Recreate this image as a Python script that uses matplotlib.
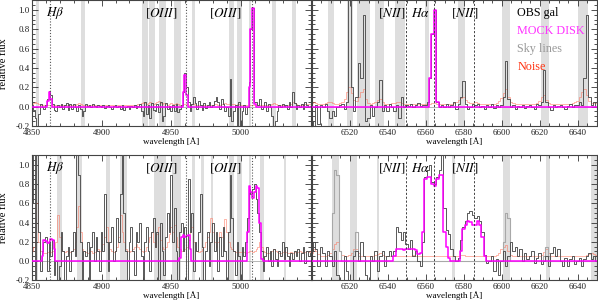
import numpy as np
import matplotlib
matplotlib.use("Agg")
import matplotlib.pyplot as plt
from matplotlib.ticker import MultipleLocator

plt.rcParams['font.family'] = ['Liberation Serif', 'DejaVu Serif']
plt.rcParams['mathtext.fontset'] = 'stix'

# ---------------- data ----------------
blue_start, red_start, step = 4850.0, 6500.0, 1.25
n_blue, n_red = 161, 121

# top-left (blue) panel
tl_obs = [
    0.02, -0.03, -0.12, -0.2, -0.08, 0.03, 0.0, -0.02,
    0.02, 0.08, 0.16, 0.12, 0.03, -0.03, -0.05, 0.02,
    0.0, 0.03, -0.02, 0.02, 0.04, -0.03, 0.03, -0.02,
    0.03, 0.0, -0.04, 0.02, -0.02, -0.1, -0.05, 0.03,
    0.01, 0.02, 0.0, 0.03, 0.01, 0.0, 0.02, 0.01,
    0.0, 0.02, -0.01, 0.01, 0.02, 0.0, -0.02, 0.01,
    0.02, 0.0, 0.01, -0.02, 0.02, -0.03, 0.0, 0.01,
    -0.02, 0.01, 0.0, 0.02, -0.01, 0.01, 0.03, -0.05,
    -0.1, 0.05, -0.08, 0.02, -0.12, 0.04, -0.03, -0.05,
    0.03, -0.06, 0.05, -0.15, -0.1, 0.04, -0.02, 0.01,
    -0.05, 0.02, -0.04, 0.03, -0.06, -0.02, 0.02, 0.15,
    0.35, 0.2, 0.05, -0.05, 0.03, 0.1, 0.04, -0.02,
    0.06, 0.02, -0.03, 0.04, -0.01, 0.02, 0.05, 0.0,
    0.02, 0.06, 0.1, 0.05, -0.02, 0.08, 0.03, -0.05,
    0.0, -0.1, 0.29, -0.15, -0.05, 0.02, -0.2, 0.05,
    -0.2, -0.05, 0.02, -0.08, 0.0, 0.25, 0.8, 1.02,
    0.05, 0.05, 0.02, 0.08, -0.02, 0.0, 0.05, -0.04,
    0.03, 0.0, -0.1, -0.2, -0.15, -0.05, 0.02, 0.0,
    0.03, 0.01, 0.02, -0.02, 0.05, 0.0, 0.15, 0.04,
    -0.02, 0.02, 0.0, 0.03, -0.02, 0.05, 0.02, 0.0,
    0.01]
tl_mock = [
    0, 0, 0, 0, 0, 0, 0, 0,
    0, 0.06, 0.15, 0.08, 0, 0, 0, 0,
    0, 0, 0, 0, 0, 0, 0, 0,
    0, 0, 0, 0, 0, 0, 0, 0,
    0, 0, 0, 0, 0, 0, 0, 0,
    0, 0, 0, 0, 0, 0, 0, 0,
    0, 0, 0, 0, 0, 0, 0, 0,
    0, 0, 0, 0, 0, 0, 0, 0,
    0, 0, 0, 0, 0, 0, 0, 0,
    0, 0, 0, 0, 0, 0, 0, 0,
    0, 0, 0, 0, 0, 0, 0, 0.15,
    0.33, 0.12, 0, 0, 0, 0, 0, 0,
    0, 0, 0, 0, 0, 0, 0, 0,
    0, 0, 0, 0, 0, 0, 0, 0,
    0, 0, 0, 0, 0, 0, 0, 0,
    0, 0, 0, 0, 0, 0.2, 0.8, 1.02,
    0.03, 0, 0, 0, 0, 0, 0, 0,
    0, 0, 0, 0, 0, 0, 0, 0,
    0, 0, 0, 0, 0, 0, 0, 0,
    0, 0, 0, 0, 0, 0, 0, 0,
    0]
tl_noise = [
    0.03, 0.04, 0.05, 0.04, 0.03, 0.02, 0.02, 0.02,
    0.02, 0.02, 0.02, 0.02, 0.02, 0.02, 0.02, 0.02,
    0.02, 0.02, 0.02, 0.02, 0.02, 0.02, 0.02, 0.02,
    0.02, 0.02, 0.03, 0.04, 0.03, 0.02, 0.02, 0.02,
    0.02, 0.02, 0.02, 0.02, 0.02, 0.02, 0.02, 0.02,
    0.02, 0.02, 0.02, 0.02, 0.02, 0.02, 0.02, 0.02,
    0.02, 0.02, 0.02, 0.02, 0.02, 0.02, 0.02, 0.02,
    0.02, 0.02, 0.02, 0.02, 0.02, 0.03, 0.03, 0.04,
    0.05, 0.04, 0.03, 0.04, 0.05, 0.04, 0.03, 0.04,
    0.05, 0.06, 0.04, 0.03, 0.04, 0.03, 0.02, 0.03,
    0.04, 0.03, 0.03, 0.04, 0.03, 0.02, 0.02, 0.03,
    0.03, 0.03, 0.02, 0.02, 0.03, 0.03, 0.02, 0.02,
    0.02, 0.02, 0.02, 0.02, 0.02, 0.02, 0.02, 0.02,
    0.02, 0.03, 0.03, 0.02, 0.02, 0.03, 0.03, 0.04,
    0.03, 0.03, 0.04, 0.03, 0.03, 0.02, 0.03, 0.03,
    0.02, 0.02, 0.02, 0.02, 0.02, 0.02, 0.02, 0.02,
    0.02, 0.02, 0.02, 0.02, 0.02, 0.02, 0.02, 0.02,
    0.02, 0.02, 0.03, 0.04, 0.03, 0.02, 0.02, 0.02,
    0.02, 0.02, 0.02, 0.02, 0.03, 0.03, 0.05, 0.04,
    0.03, 0.02, 0.02, 0.02, 0.02, 0.03, 0.03, 0.03,
    0.03]
tl_lines = [4862.68, 4960.30, 5008.24]
tl_sky = [(4852.9, 4854.8), (4885.0, 4887.9), (4928.8, 4933.0), (4934.3, 4938.6),
          (4941.4, 4946.2), (4951.7, 4956.9), (4964.8, 4967.1), (4991.4, 4995.0),
          (4997.0, 5000.5), (5005.7, 5007.4), (5022.4, 5025.5), (5036.7, 5039.5)]

# top-right (red) panel
tr_obs = [
    -0.15, -0.2, 0.02, -0.18, 0.02, 0.0, 0.03, -0.05,
    -0.12, -0.05, -0.1, 0.0, 0.02, 0.03, -0.02, 0.05,
    1.15, 0.2, -0.05, 0.1, 0.45, 0.3, 0.95, -0.15,
    -0.12, 0.02, -0.1, 0.0, 0.05, 0.28, -0.05, 0.02,
    -0.05, 0.03, 0.0, -0.05, 0.02, -0.12, 0.1, 0.0,
    0.02, 0.01, 0.03, 0.0, 0.02, 0.04, 0.01, 0.02,
    0.02, 0.05, 0.3, 0.75, 1.0, 0.05, 0.0, 0.02,
    0.0, 0.03, 0.0, 0.02, 0.05, -0.02, 0.03, 0.1,
    0.27, 0.03, -0.02, 0.0, 0.03, 0.02, 0.03, 0.0,
    0.01, -0.02, 0.02, 0.0, 0.03, -0.01, 0.02, 0.0,
    0.02, 0.1, 0.47, 0.08, 0.0, 0.02, -0.02, 0.01,
    0.0, 0.02, -0.01, 0.01, 0.02, 0.0, -0.02, 0.03,
    0.02, 0.05, 0.38, 0.05, 0.0, -0.03, 0.02, 0.0,
    0.01, 0.02, 0.0, -0.02, 0.01, 0.03, 0.0, 0.02,
    0.02, 0.05, 0.02, 0.3, 0.95, 0.1, 0.02, 0.05,
    0.0]
tr_mock = [
    0, 0, 0, 0, 0, 0, 0, 0,
    0, 0, 0, 0, 0, 0, 0, 0,
    0, 0, 0, 0, 0, 0, 0, 0,
    0, 0, 0, 0, 0, 0, 0, 0,
    0, 0, 0, 0, 0, 0, 0, 0,
    0, 0, 0, 0, 0, 0, 0, 0,
    0, 0, 0.3, 0.75, 1.0, 0.05, 0, 0,
    0, 0, 0, 0, 0, 0, 0, 0,
    0, 0, 0, 0, 0, 0, 0, 0,
    0, 0, 0, 0, 0, 0, 0, 0,
    0, 0, 0, 0, 0, 0, 0, 0,
    0, 0, 0, 0, 0, 0, 0, 0,
    0, 0, 0, 0, 0, 0, 0, 0,
    0, 0, 0, 0, 0, 0, 0, 0,
    0, 0, 0, 0, 0, 0, 0, 0,
    0]
tr_noise = [
    0.04, 0.05, 0.04, 0.03, 0.03, 0.03, 0.04, 0.05,
    0.05, 0.04, 0.03, 0.03, 0.04, 0.05, 0.08, 0.15,
    0.2, 0.14, 0.07, 0.06, 0.1, 0.15, 0.18, 0.08,
    0.04, 0.03, 0.04, 0.05, 0.07, 0.08, 0.05, 0.03,
    0.03, 0.03, 0.04, 0.04, 0.05, 0.05, 0.04, 0.03,
    0.03, 0.03, 0.03, 0.03, 0.03, 0.03, 0.03, 0.03,
    0.03, 0.03, 0.03, 0.04, 0.04, 0.03, 0.03, 0.03,
    0.03, 0.03, 0.03, 0.03, 0.04, 0.05, 0.07, 0.09,
    0.1, 0.07, 0.05, 0.04, 0.04, 0.05, 0.04, 0.03,
    0.03, 0.03, 0.03, 0.03, 0.03, 0.03, 0.04, 0.06,
    0.09, 0.14, 0.18, 0.1, 0.05, 0.04, 0.03, 0.03,
    0.03, 0.03, 0.03, 0.03, 0.03, 0.03, 0.03, 0.04,
    0.06, 0.1, 0.12, 0.07, 0.04, 0.03, 0.03, 0.03,
    0.03, 0.03, 0.03, 0.03, 0.03, 0.03, 0.04, 0.05,
    0.06, 0.1, 0.15, 0.18, 0.12, 0.06, 0.04, 0.04,
    0.04]
tr_lines = [6549.86, 6564.61, 6585.27]
tr_sky = [(6508.6, 6511.8), (6518.9, 6521.9), (6524.2, 6530.8), (6533.5, 6537.9),
          (6544.2, 6549.1), (6559.8, 6561.6), (6577.0, 6580.6), (6600.3, 6604.6),
          (6620.6, 6625.0), (6640.5, 6645.5)]

# bottom-left (blue) panel
bl_obs = [
    0.6, 1.1, -0.2, 1.1, 0.3, -0.1, 0.1, 0.2,
    0.25, -0.1, 0.2, 0.05, 0.22, -0.15, 0.0, -0.2,
    -0.05, 0.3, 0.1, -0.2, 0.05, 0.15, -0.1, 0.1,
    0.3, 0.05, 1.1, 0.9, 0.2, -0.2, 0.1, 0.05,
    0.2, -0.2, 0.15, 0.3, 0.0, 0.25, 0.1, -0.1,
    0.3, 0.1, 0.7, 0.2, -0.1, 0.2, 0.35, 0.0,
    0.1, 0.45, 0.2, 0.7, 1.1, 0.5, 0.1, -0.2,
    0.2, 0.35, 0.1, -0.15, 0.3, 0.2, 0.4, 0.05,
    -0.2, 0.2, 0.35, 0.1, -0.1, 0.3, 0.45, 0.15,
    0.3, -0.2, 0.4, 0.1, -0.15, 0.25, 0.5, 0.3,
    0.9, 0.2, 0.55, 0.1, -0.2, 0.3, 0.4, 0.1,
    0.35, -0.2, 0.85, 0.3, 0.5, -0.1, 0.2, 0.1,
    0.3, 0.7, 0.15, -0.2, 0.1, 0.3, -0.05, 0.2,
    0.4, 0.1, 0.3, -0.1, 0.25, 0.05, 0.35, 0.1,
    -0.2, 0.3, 0.9, 0.45, 0.1, -0.15, 0.2, 0.05,
    -0.2, 0.15, 0.05, 0.2, 0.45, 0.75, 0.7, 0.75,
    0.8, 0.65, 0.5, 0.3, 0.1, -0.1, 0.05, 0.15,
    0.0, 0.1, -0.05, 0.12, 0.02, -0.05, 0.1, 0.05,
    0.2, 0.02, 0.15, 0.05, -0.05, 0.08, 0.02, 0.1,
    0.05, 0.12, 0.0, 0.08, 0.15, -0.02, 0.1, 0.05,
    0.08]
bl_mock = [
    0, 0, 0, 0, 0, 0, 0.05, 0.22,
    0.21, 0.19, 0.2, 0.23, 0.22, 0.12, 0, 0,
    0, 0, 0, 0, 0, 0, 0, 0,
    0, 0, 0, 0, 0, 0, 0, 0,
    0, 0, 0, 0, 0, 0, 0, 0,
    0, 0, 0, 0, 0, 0, 0, 0,
    0, 0, 0, 0, 0, 0, 0, 0,
    0, 0, 0, 0, 0, 0, 0, 0,
    0, 0, 0, 0, 0, 0, 0, 0,
    0, 0, 0, 0, 0, 0, 0, 0,
    0, 0, 0, 0, 0, 0.03, 0.25, 0.27,
    0.25, 0.26, 0.27, 0.12, 0, 0, 0, 0,
    0, 0, 0, 0, 0, 0, 0, 0,
    0, 0, 0, 0, 0, 0, 0, 0,
    0, 0, 0, 0, 0, 0, 0, 0,
    0, 0, 0, 0, 0.3, 0.78, 0.72, 0.66,
    0.72, 0.78, 0.76, 0.4, 0.02, 0, 0, 0,
    0, 0, 0, 0, 0, 0, 0, 0,
    0, 0, 0, 0, 0, 0, 0, 0,
    0, 0, 0, 0, 0, 0, 0, 0,
    0]
bl_noise = [
    0.1, 0.15, 0.3, 0.6, 0.2, 0.1, 0.09, 0.08,
    0.08, 0.09, 0.1, 0.09, 0.1, 0.12, 0.2, 0.48,
    0.25, 0.12, 0.1, 0.09, 0.1, 0.08, 0.09, 0.1,
    0.12, 0.2, 0.35, 0.57, 0.3, 0.12, 0.1, 0.09,
    0.08, 0.09, 0.1, 0.08, 0.09, 0.1, 0.12, 0.1,
    0.12, 0.18, 0.25, 0.35, 0.2, 0.12, 0.1, 0.09,
    0.1, 0.15, 0.25, 0.48, 0.3, 0.2, 0.12, 0.1,
    0.09, 0.1, 0.12, 0.15, 0.18, 0.15, 0.12, 0.1,
    0.09, 0.1, 0.15, 0.2, 0.25, 0.3, 0.2, 0.15,
    0.28, 0.35, 0.22, 0.15, 0.12, 0.15, 0.2, 0.28,
    0.35, 0.3, 0.38, 0.25, 0.15, 0.12, 0.1, 0.1,
    0.12, 0.15, 0.22, 0.3, 0.35, 0.2, 0.12, 0.1,
    0.09, 0.1, 0.12, 0.15, 0.2, 0.25, 0.3, 0.45,
    0.3, 0.2, 0.15, 0.2, 0.3, 0.25, 0.3, 0.44,
    0.3, 0.2, 0.15, 0.12, 0.1, 0.09, 0.08, 0.09,
    0.09, 0.1, 0.09, 0.08, 0.09, 0.1, 0.1, 0.09,
    0.1, 0.12, 0.15, 0.2, 0.15, 0.1, 0.09, 0.08,
    0.08, 0.09, 0.1, 0.12, 0.1, 0.09, 0.08, 0.08,
    0.09, 0.1, 0.09, 0.08, 0.08, 0.09, 0.08, 0.09,
    0.08, 0.09, 0.1, 0.09, 0.08, 0.09, 0.1, 0.09,
    0.1]
bl_lines = [4862.68, 4960.30, 5008.24]
bl_sky = [(4853.0, 4854.6), (4867.6, 4871.2), (4882.4, 4886.2), (4902.9, 4905.7),
          (4912.9, 4918.3), (4937.9, 4946.2), (4950.7, 4956.9), (4964.8, 4967.1),
          (4971.2, 4973.6), (4978.6, 4980.2), (4991.4, 4995.0), (4997.0, 5000.5),
          (5005.7, 5007.4), (5013.8, 5016.4), (5030.7, 5032.4)]

# bottom-right (red) panel
br_obs = [
    0.1, 0.2, 0.12, -0.05, 0.15, 0.08, -0.05, 0.1,
    0.05, -0.05, 0.1, -0.15, -0.2, -0.2, 0.05, -0.1,
    -0.2, -0.2, 0.05, 0.1, 0.0, 0.2, 0.05, -0.15,
    -0.2, 0.05, 0.0, 0.1, -0.1, 0.05, 0.1, -0.05,
    0.05, 0.1, 0.05, 0.1, 0.35, 0.3, 0.22, 0.3,
    0.18, 0.12, 0.22, 0.05, 0.1, 0.0, -0.05, 0.2,
    0.88, 0.95, 1.0, 0.82, 0.8, 0.88, 0.95, 1.12,
    0.55, 0.32, 0.28, 0.12, 0.05, 0.0, 0.03, 0.22,
    0.35, 0.42, 0.5, 0.52, 0.48, 0.45, 0.47, 0.42,
    0.3, 0.06, -0.02, 0.0, 0.05, -0.1, 0.02, -0.15,
    0.0, 0.1, -0.05, 0.05, 0.2, 0.1, 0.15, 0.05,
    0.12, 0.0, 0.08, 0.02, 0.05, 0.1, -0.02, 0.03,
    0.08, -0.03, 0.0, 0.05, -0.05, 0.08, 0.15, 0.05,
    0.12, 0.0, -0.05, 0.03, -0.05, 0.02, 0.05, -0.03,
    0.0, 0.03, -0.05, 0.02, 0.05, 0.08, 0.02, 0.05,
    0.0]
br_mock = [
    0, 0, 0, 0, 0, 0, 0, 0,
    0, 0, 0, 0, 0, 0, 0, 0,
    0, 0, 0, 0, 0, 0, 0, 0,
    0, 0, 0, 0, 0, 0, 0, 0,
    0, 0, 0, 0.05, 0.12, 0.13, 0.13, 0.11,
    0.12, 0.13, 0.12, 0.12, 0.11, 0.07, 0.08, 0.3,
    0.85, 0.88, 0.87, 0.8, 0.78, 0.85, 0.9, 0.9,
    0.3, 0.15, 0.03, 0, 0, 0, 0, 0.1,
    0.33, 0.38, 0.42, 0.41, 0.38, 0.38, 0.42, 0.38,
    0.25, 0.05, 0, 0, 0, 0, 0, 0,
    0, 0, 0, 0, 0, 0, 0, 0,
    0, 0, 0, 0, 0, 0, 0, 0,
    0, 0, 0, 0, 0, 0, 0, 0,
    0, 0, 0, 0, 0, 0, 0, 0,
    0, 0, 0, 0, 0, 0, 0, 0,
    0]
br_noise = [
    0.08, 0.12, 0.1, 0.07, 0.05, 0.05, 0.05, 0.06,
    0.08, 0.12, 0.18, 0.2, 0.1, 0.06, 0.05, 0.05,
    0.06, 0.08, 0.12, 0.13, 0.08, 0.05, 0.05, 0.05,
    0.05, 0.05, 0.05, 0.06, 0.07, 0.08, 0.06, 0.05,
    0.05, 0.05, 0.05, 0.05, 0.05, 0.05, 0.05, 0.05,
    0.05, 0.05, 0.05, 0.06, 0.05, 0.05, 0.05, 0.05,
    0.05, 0.05, 0.05, 0.05, 0.05, 0.05, 0.05, 0.05,
    0.05, 0.05, 0.05, 0.05, 0.05, 0.05, 0.05, 0.06,
    0.06, 0.05, 0.05, 0.05, 0.05, 0.05, 0.05, 0.05,
    0.05, 0.05, 0.05, 0.05, 0.05, 0.05, 0.06, 0.08,
    0.12, 0.15, 0.17, 0.1, 0.06, 0.05, 0.05, 0.05,
    0.05, 0.05, 0.05, 0.05, 0.05, 0.05, 0.05, 0.05,
    0.05, 0.06, 0.09, 0.12, 0.08, 0.05, 0.05, 0.05,
    0.05, 0.05, 0.05, 0.05, 0.05, 0.05, 0.05, 0.05,
    0.05, 0.05, 0.05, 0.05, 0.06, 0.07, 0.08, 0.07,
    0.06]
br_skyspec = [
    0, 0, 0, 0, 0, 0, 0, 0,
    0, 0.5, 0.95, 0.9, 0.1, 0, 0, 0,
    0, 0, 0.1, 0.3, 0.05, 0, 0, 0,
    0, 0, 0, 0, 0, 0, 0, 0,
    0, 0, 0, 0, 0, 0, 0, 0,
    0, 0, 0, 0, 0, 0, 0, 0,
    0, 0, 0, 0, 0, 0, 0, 0,
    0, 0, 0, 0, 0, 0, 0, 0,
    0, 0, 0, 0, 0, 0, 0, 0,
    0, 0, 0, 0, 0, 0, 0, 0,
    0, 0.2, 0.5, 0.45, 0, 0, 0, 0,
    0, 0, 0, 0, 0, 0, 0, 0,
    0, 0, 0.05, 0.15, 0.05, 0, 0, 0,
    0, 0, 0, 0, 0, 0, 0, 0,
    0, 0, 0, 0, 0, 0, 0, 0,
    0]
br_lines = [6549.86, 6564.61, 6585.27]
br_sky = [(6510.7, 6514.7), (6520.2, 6523.7), (6534.7, 6535.6), (6574.2, 6575.6),
          (6600.9, 6604.4), (6623.3, 6625.4), (6647.1, 6650.0)]

blue_labels = [(r'$H\beta$', 4866.5), (r'$[OIII]$', 4943.0), (r'$[OIII]$', 4989.0)]
red_labels = [(r'$[NII]$', 6542.0), (r'$H\alpha$', 6557.5), (r'$[NII]$', 6580.5)]

legend_names = ['OBS gal', 'MOCK DISK', 'Sky lines', 'Noise']
legend_colors = ['black', '#ff33ff', '#999999', '#ff3311']

# ---------------- figure ----------------
W, H = 598, 303
fig = plt.figure(figsize=(W / 100, H / 100), dpi=100)

def rect(x0, x1, ytop, ybot):
    return [x0 / W, 1 - ybot / H, (x1 - x0) / W, (ybot - ytop) / H]

ax_tl = fig.add_axes(rect(32, 310.5, 0.3, 126.0))
ax_tr = fig.add_axes(rect(311.5, 596.5, 0.3, 126.0))
ax_bl = fig.add_axes(rect(32, 310.5, 155.4, 280.2))
ax_br = fig.add_axes(rect(311.5, 596.5, 155.4, 280.2))

wl_blue = blue_start + step * np.arange(n_blue)
wl_red = red_start + step * np.arange(n_red)

OBS_C = '#4d4d4d'
MOCK_C = '#ff00ff'
NOISE_C = '#ff6a50'
SKY_C = '#a8a8a8'
BAND_C = '#dedede'

panels = [
    (ax_tl, wl_blue, tl_obs, tl_mock, tl_noise, None, tl_lines, tl_sky, blue_labels, 'blue'),
    (ax_tr, wl_red, tr_obs, tr_mock, tr_noise, None, tr_lines, tr_sky, red_labels, 'red'),
    (ax_bl, wl_blue, bl_obs, bl_mock, bl_noise, None, bl_lines, bl_sky, blue_labels, 'blue'),
    (ax_br, wl_red, br_obs, br_mock, br_noise, br_skyspec, br_lines, br_sky, red_labels, 'red'),
]

for ax, wl, obs, mock, noise, skyspec, lines, bands, labels, arm in panels:
    for a, b in bands:
        ax.axvspan(a, b, color=BAND_C, lw=0, zorder=0)
    ax.axhline(0, color='#9a9a9a', lw=0.5, zorder=1)
    ax.plot(wl, noise, drawstyle='steps-mid', color=NOISE_C, lw=0.7, alpha=0.5, zorder=2)
    if skyspec is not None:
        ax.plot(wl, skyspec, drawstyle='steps-mid', color=SKY_C, lw=0.8, zorder=2)
    ax.plot(wl, obs, drawstyle='steps-mid', color=OBS_C, lw=0.65, zorder=3)
    ax.plot(wl, mock, drawstyle='steps-mid', color=MOCK_C, lw=1.1, zorder=4)
    for lw_ in lines:
        if arm == 'blue':
            ax.axvline(lw_, color='#555555', lw=0.8, ls=(0, (1, 1.6)), zorder=5)
        else:
            ax.axvline(lw_, color='#444444', lw=0.7, ls=(0, (2.2, 1.8)), zorder=5)
    for txt, xpos in labels:
        ax.text(xpos, 0.965, txt, fontsize=9.5, ha='center', va='center', zorder=6)

    ax.set_ylim(-0.2, 1.1)
    ax.yaxis.set_major_locator(MultipleLocator(0.2))
    ax.yaxis.set_minor_locator(MultipleLocator(0.05))
    if arm == 'blue':
        ax.set_xlim(4850, 5050)
        ax.set_xticks([4850, 4900, 4950, 5000])
        ax.xaxis.set_minor_locator(MultipleLocator(10))
        ax.set_ylabel('relative flux', fontsize=7.5)
        ax.yaxis.set_label_coords(-0.085, 0.5)
        ax.set_yticks([-0.2, 0.0, 0.2, 0.4, 0.6, 0.8, 1.0])
        ax.set_yticklabels(['-0.2', '0.0', '0.2', '0.4', '0.6', '0.8', '1.0'])
    else:
        ax.set_xlim(6500, 6650)
        ax.set_xticks([6520, 6540, 6560, 6580, 6600, 6620, 6640])
        ax.xaxis.set_minor_locator(MultipleLocator(5))
        ax.tick_params(axis='y', labelleft=False)
    ax.set_xlabel('wavelength [Å]', fontsize=6.5)
    ax.xaxis.set_label_coords(0.5, -0.09)
    ax.xaxis.label.set_va('top')
    ax.tick_params(which='both', direction='in', top=True, right=True,
                   labelsize=6.5, width=0.6, colors='#333333', labelcolor='#222222')
    ax.tick_params(which='major', length=4, pad=2)
    ax.tick_params(which='minor', length=2)
    ax.tick_params(axis='y', pad=1.5)
    for sp in ax.spines.values():
        sp.set_linewidth(0.8)
        sp.set_color('#444444')

for i, (name, col) in enumerate(zip(legend_names, legend_colors)):
    ax_tr.text(0.722, 0.899 - i * 0.143, name, transform=ax_tr.transAxes,
               fontsize=8.7, color=col, ha='left', va='center', zorder=7)

fig.savefig('out.png', dpi=100)
